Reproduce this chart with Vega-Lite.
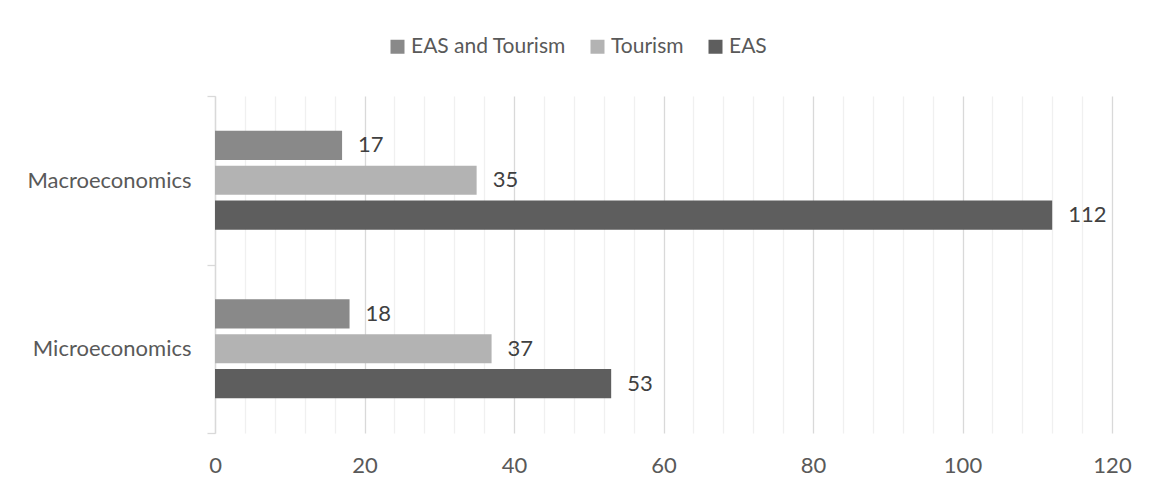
{
  "$schema": "https://vega.github.io/schema/vega-lite/v6.json",
  "width": 897,
  "height": 337,
  "autosize": {"type": "none"},
  "padding": {"left": 215, "top": 96, "right": 44, "bottom": 62},
  "background": "white",
  "config": {
    "view": {"stroke": null},
    "font": "Lato"
  },
  "data": {
    "values": [
      {"course": "Macroeconomics", "group": "EAS and Tourism", "value": 17},
      {"course": "Macroeconomics", "group": "Tourism", "value": 35},
      {"course": "Macroeconomics", "group": "EAS", "value": 112},
      {"course": "Microeconomics", "group": "EAS and Tourism", "value": 18},
      {"course": "Microeconomics", "group": "Tourism", "value": 37},
      {"course": "Microeconomics", "group": "EAS", "value": 53}
    ]
  },
  "encoding": {
    "y": {
      "field": "course",
      "type": "nominal",
      "sort": ["Macroeconomics", "Microeconomics"],
      "scale": {"paddingInner": 0, "paddingOuter": 0},
      "axis": {
        "title": null,
        "domainColor": "#d9d9d9",
        "domainWidth": 1.3,
        "tickColor": "#d9d9d9",
        "tickWidth": 1.3,
        "tickSize": 8,
        "tickBand": "extent",
        "labelFontSize": 22,
        "labelColor": "#595959",
        "labelPadding": 16,
        "grid": false
      }
    },
    "yOffset": {
      "field": "group",
      "type": "nominal",
      "sort": ["EAS and Tourism", "Tourism", "EAS"],
      "scale": {"paddingInner": 0.164, "paddingOuter": 1.097}
    },
    "x": {
      "field": "value",
      "type": "quantitative",
      "scale": {"domain": [0, 120], "nice": false},
      "axis": {
        "title": null,
        "values": [0, 4, 8, 12, 16, 20, 24, 28, 32, 36, 40, 44, 48, 52, 56, 60, 64, 68, 72, 76, 80, 84, 88, 92, 96, 100, 104, 108, 112, 116, 120],
        "labelExpr": "datum.value % 20 === 0 ? datum.label : ''",
        "grid": true,
        "gridColor": {"condition": {"test": "datum.value % 20 === 0", "value": "#d9d9d9"}, "value": "#f0f0f0"},
        "gridWidth": 1.3,
        "ticks": false,
        "domain": false,
        "labelFontSize": 22,
        "labelColor": "#595959",
        "labelPadding": 22,
        "labelFlush": false
      }
    }
  },
  "layer": [
    {
      "mark": {"type": "bar"},
      "encoding": {
        "color": {
          "field": "group",
          "type": "nominal",
          "sort": ["EAS and Tourism", "Tourism", "EAS"],
          "scale": {"domain": ["EAS and Tourism", "Tourism", "EAS"], "range": ["#898989", "#b3b3b3", "#5e5e5e"]},
          "legend": {
            "title": null,
            "orient": "none",
            "direction": "horizontal",
            "legendX": 172,
            "legendY": -60,
            "symbolType": "square",
            "symbolSize": 196,
            "symbolStrokeWidth": 0,
            "labelFontSize": 21,
            "labelColor": "#595959",
            "labelOffset": 3,
            "labelLimit": 0,
            "columnPadding": 21
          }
        }
      }
    },
    {
      "mark": {"type": "text", "align": "left", "baseline": "middle", "dx": 16, "fontSize": 22, "fill": "#404040"},
      "encoding": {
        "text": {"field": "value", "type": "quantitative"}
      }
    }
  ]
}
